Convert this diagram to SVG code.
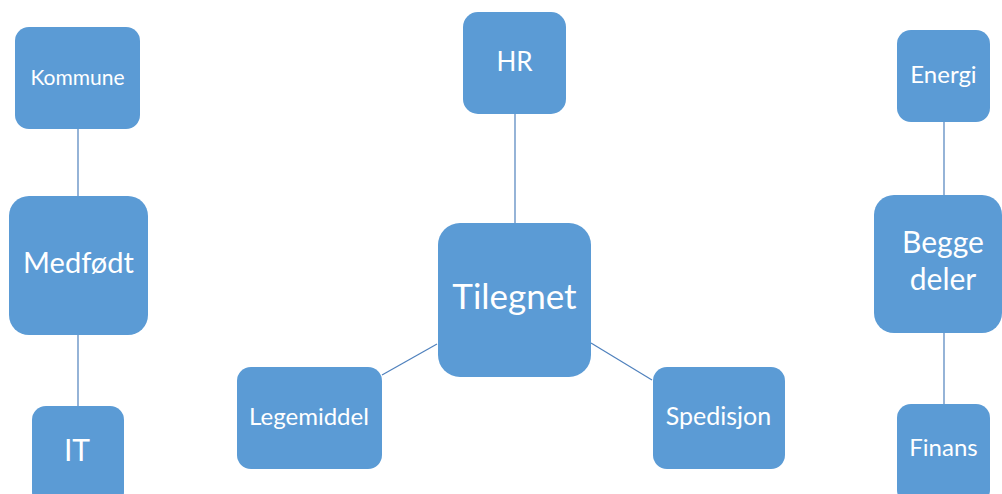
<svg xmlns="http://www.w3.org/2000/svg" width="1002" height="494" viewBox="0 0 1002 494">
  <style>
    .box { fill: #5B9BD5; }
    .lbl { fill: #FFFFFF; font-family: Lato, "Open Sans", "Liberation Sans", sans-serif; text-anchor: middle; }
    .link { stroke: #4F81BD; stroke-width: 1.2; fill: none; }
  </style>
  <rect x="0" y="0" width="1002" height="494" fill="#FFFFFF"/>

  <!-- connectors -->
  <g id="connectors">
    <line class="link" x1="78" y1="129" x2="78" y2="196"/>
    <line class="link" x1="78" y1="335" x2="78" y2="406"/>
    <line class="link" x1="515" y1="114" x2="515" y2="223"/>
    <line class="link" x1="382" y1="375" x2="437" y2="344"/>
    <line class="link" x1="591" y1="343" x2="652" y2="380"/>
    <line class="link" x1="944" y1="122" x2="944" y2="195"/>
    <line class="link" x1="944" y1="333" x2="944" y2="404"/>
  </g>

  <!-- left column -->
  <g id="kommune">
    <rect class="box" x="15" y="27" width="125" height="102" rx="14"/>
    <text class="lbl" x="77.5" y="85" font-size="21">Kommune</text>
  </g>
  <g id="medfodt">
    <rect class="box" x="9" y="196" width="139" height="139" rx="20"/>
    <text class="lbl" x="78.5" y="273" font-size="29">Medfødt</text>
  </g>
  <g id="it">
    <rect class="box" x="32" y="406" width="92" height="100" rx="14"/>
    <text class="lbl" x="77" y="461" font-size="30">IT</text>
  </g>

  <!-- centre cluster -->
  <g id="hr">
    <rect class="box" x="463" y="12" width="103" height="102" rx="15"/>
    <text class="lbl" x="514.5" y="71" font-size="26">HR</text>
  </g>
  <g id="tilegnet">
    <rect class="box" x="438" y="223" width="153" height="154" rx="22"/>
    <text class="lbl" x="514.5" y="309" font-size="35">Tilegnet</text>
  </g>
  <g id="legemiddel">
    <rect class="box" x="237" y="367" width="145" height="102" rx="14"/>
    <text class="lbl" x="309" y="425" font-size="24">Legemiddel</text>
  </g>
  <g id="spedisjon">
    <rect class="box" x="653" y="367" width="132" height="102" rx="14"/>
    <text class="lbl" x="718.5" y="425" font-size="25">Spedisjon</text>
  </g>

  <!-- right column -->
  <g id="energi">
    <rect class="box" x="897" y="30" width="93" height="92" rx="14"/>
    <text class="lbl" x="943.5" y="83" font-size="24">Energi</text>
  </g>
  <g id="begge-deler">
    <rect class="box" x="874" y="195" width="128" height="138" rx="20"/>
    <text class="lbl" x="943" y="253" font-size="30">Begge</text>
    <text class="lbl" x="943" y="290" font-size="30">deler</text>
  </g>
  <g id="finans">
    <rect class="box" x="897" y="404" width="93" height="100" rx="14"/>
    <text class="lbl" x="943.5" y="456" font-size="24">Finans</text>
  </g>
</svg>
